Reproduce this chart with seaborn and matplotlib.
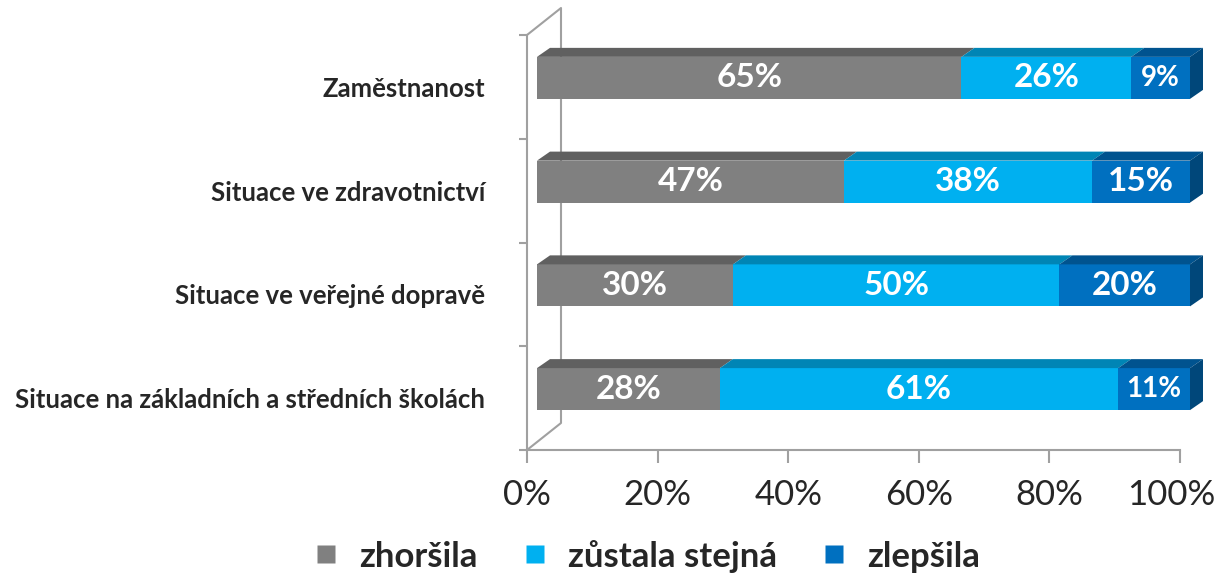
import numpy as np
import pandas as pd
import matplotlib
matplotlib.use('Agg')
import matplotlib.pyplot as plt
import matplotlib.transforms as mtransforms
from matplotlib.patches import Polygon
from matplotlib.lines import Line2D
import seaborn as sns

# Data
categories = ['Zaměstnanost', 'Situace ve zdravotnictví', 'Situace ve veřejné dopravě',
              'Situace na základních a středních školách']
series = ['zhoršila', 'zůstala stejná', 'zlepšila']
zhorsila = [65, 47, 30, 28]
zustala = [26, 38, 50, 61]
zlepsila = [9, 15, 20, 11]
tick_labels = ['0%', '20%', '40%', '60%', '80%', '100%']

front_colors = ['#808080', '#00B0F0', '#0070C0']
top_colors = ['#606060', '#0085B5', '#00538F']
side_color = '#00477A'

sns.set_style('white')
plt.rcParams['font.family'] = ['Lato', 'DejaVu Sans']

df = pd.DataFrame({'kategorie': categories, 'zhoršila': zhorsila,
                   'zůstala stejná': zustala, 'zlepšila': zlepsila})
df['c1'] = df['zhoršila']
df['c2'] = df['c1'] + df['zůstala stejná']
df['c3'] = df['c2'] + df['zlepšila']

fig = plt.figure(figsize=(12.2, 5.75), dpi=100)
ax = fig.add_axes([527 / 1220, 125 / 575, 653 / 1220, 415 / 575])

bar_h = 0.405
# cumulative bars drawn back to front so they look stacked
for col, color in zip(['c3', 'c2', 'c1'], front_colors[::-1]):
    sns.barplot(data=df, x=col, y='kategorie', color=color, width=bar_h,
                saturation=1, ax=ax, edgecolor='none', linewidth=0)

# 3D look: bars sit a bit in front of the floor/wall
offset = mtransforms.ScaledTranslation(10 / 100, 9 / 100, fig.dpi_scale_trans)
bar_trans = ax.transData + offset
for p in ax.patches:
    p.set_transform(bar_trans)
    p.set_clip_on(False)

ax.set_xlim(0, 100)
ax.set_ylim(3.5, -0.5)

depth_x = 13 / 6.53
depth_y = 9 / 103.75
for i in range(len(categories)):
    top = i - bar_h / 2
    bottom = i + bar_h / 2
    lefts = [0, df['c1'][i], df['c2'][i]]
    rights = [df['c1'][i], df['c2'][i], df['c3'][i]]
    for l, r, tc in zip(lefts, rights, top_colors):
        ax.add_patch(Polygon([(l, top), (r, top), (r + depth_x, top - depth_y),
                              (l + depth_x, top - depth_y)], closed=True,
                             facecolor=tc, edgecolor='none', transform=bar_trans,
                             clip_on=False))
    ax.add_patch(Polygon([(100, top), (100 + depth_x, top - depth_y),
                          (100 + depth_x, bottom - depth_y), (100, bottom)], closed=True,
                         facecolor=side_color, edgecolor='none', transform=bar_trans,
                         clip_on=False))
    vals = [zhorsila[i], zustala[i], zlepsila[i]]
    for l, r, v in zip(lefts, rights, vals):
        ax.text((l + r) / 2, i, f'{v}%', color='white', fontweight='bold',
                fontsize=24 if v >= 12 else 20, ha='center', va='center',
                transform=bar_trans, clip_on=False)

# back wall and floor edges
wall_dx = 34 / 6.53
wall_dy = 27 / 103.75
grid_color = '#A0A0A0'
ax.plot([0, wall_dx, wall_dx, 0], [-0.5, -0.5 - wall_dy, 3.5 - wall_dy, 3.5],
        color=grid_color, lw=1.5, clip_on=False, zorder=0)

sns.despine(ax=ax, top=True, right=True)
for s in ['left', 'bottom']:
    ax.spines[s].set_color(grid_color)
    ax.spines[s].set_linewidth(1.5)

ax.set_xticks([0, 20, 40, 60, 80, 100])
ax.set_xticklabels(tick_labels, fontsize=25)
ax.tick_params(axis='x', bottom=True, length=9, width=1.5, color=grid_color, pad=12,
               direction='out')
# keep the last label inside the figure
last = ax.get_xticklabels()[-1]
last.set_transform(last.get_transform() +
                   mtransforms.ScaledTranslation(-9 / 100, 0, fig.dpi_scale_trans))

ax.set_yticks(range(len(categories)))
ax.set_yticklabels(categories, fontsize=18.5, fontweight='bold')
ax.set_yticks([-0.5, 0.5, 1.5, 2.5, 3.5], minor=True)
ax.tick_params(axis='y', which='major', left=True, length=0, pad=30)
ax.tick_params(axis='y', which='minor', left=True, length=6, width=1.5, color=grid_color,
               direction='out')
ax.set_xlabel('')
ax.set_ylabel('')

handles = [Line2D([], [], marker='s', linestyle='none', markersize=13,
                  markerfacecolor=c, markeredgecolor='none') for c in front_colors]
leg = fig.legend(handles, series, loc='center', bbox_to_anchor=(0.528, 0.033), ncol=3,
                 frameon=False, prop={'size': 25, 'weight': 'bold'},
                 handletextpad=0.45, columnspacing=1.15, handlelength=1.0)

fig.savefig('out.png', dpi=100)
